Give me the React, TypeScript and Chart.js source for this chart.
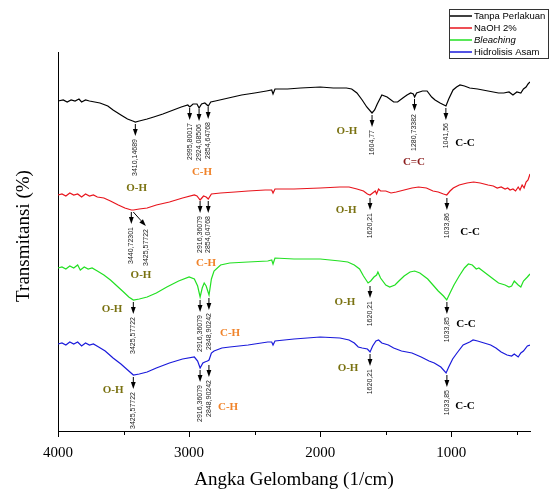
import React, { useEffect, useRef } from "react";
import { Chart, registerables } from "chart.js";

Chart.register(...registerables);

// ---- Spectra (wavenumber in 1/cm, offset transmittance in arbitrary units) ----
const wnTP = [4000,3960,3930,3900,3870,3840,3820,3790,3760,3720,
  3680,3620,3580,3520,3470,3430,3410,3380,3320,3270,
  3200,3120,3060,3010,2995,2970,2940,2924,2905,2880,
  2854,2835,2800,2700,2600,2500,2410,2370,2360,2345,
  2250,2150,2000,1900,1800,1760,1720,1680,1645,1605,
  1585,1565,1530,1490,1440,1410,1370,1338,1310,1290,
  1280,1265,1220,1185,1150,1124,1086,1041,1020,987,
  960,934,900,860,800,760,720,680,640,600,
  560,530,500,470,450,430,415,400];
const tTP = [330,331,329,331,330,332,329,331,330,329,
  328,325,321,316,312,310,309,310,312,314,
  317,321,324,326,324,327,327,323,327,328,
  325,329,330,333,336,338,340,341,337,342,
  342,343,344,343,343,342,338,331,324,318,
  321,327,336,334,329,329,333,336,338,337,
  334,338,340,340,334,331,328,325,332,341,
  344,346,345,343,342,341,340,339,338,338,
  339,336,339,338,342,344,347,349];

const wnNa = [4000,3970,3940,3910,3880,3850,3820,3790,3760,3730,
  3700,3650,3600,3540,3490,3440,3425,3380,3320,3250,
  3150,3050,2960,2940,2916,2890,2870,2854,2830,2760,
  2650,2550,2420,2370,2360,2345,2200,2000,1850,1780,
  1720,1670,1640,1620,1600,1580,1570,1555,1540,1500,
  1460,1420,1360,1300,1250,1190,1140,1100,1060,1035,
  1010,985,940,880,830,780,720,680,650,620,
  590,570,552,530,510,490,476,460,445,430,
  415,400];
const tNa = [236,237,235,238,236,237,234,237,235,236,
  234,233,230,226,223,221,221,222,223,226,
  229,233,236,235,231,235,234,232,237,238,
  239,240,241,241,238,242,242,243,244,244,
  242,240,237,236,238,240,237,242,240,240,
  238,239,241,243,244,243,240,239,237,236,
  240,243,246,248,249,248,246,245,243,244,
  242,243,241,242,240,244,241,246,243,249,
  251,257];

const wnBl = [4000,3970,3940,3910,3880,3850,3830,3800,3770,3740,
  3700,3650,3600,3550,3500,3460,3425,3380,3320,3250,
  3170,3080,3000,2960,2935,2916,2900,2885,2870,2848,
  2830,2810,2760,2690,2550,2400,2370,2360,2345,2200,
  2000,1850,1790,1740,1700,1670,1635,1615,1590,1570,
  1560,1540,1500,1470,1430,1400,1360,1315,1280,1240,
  1180,1140,1100,1060,1035,1010,980,940,900,870,
  840,810,790,760,720,680,640,590,560,540,
  520,490,470,450,420,400];
const tBl = [163,164,162,165,163,166,161,164,162,163,
  160,156,151,145,139,134,131,132,134,138,
  144,150,154,152,145,134,143,148,145,136,
  152,160,166,168,169,170,171,167,173,172,
  172,170,169,166,162,155,148,150,154,156,
  159,153,146,144,146,150,155,159,160,158,
  152,146,140,135,131,138,146,155,163,167,
  166,162,163,160,156,152,148,146,144,145,
  150,146,144,150,154,157];

const wnHA = [4000,3970,3940,3910,3880,3850,3820,3790,3760,3730,
  3690,3640,3580,3520,3460,3425,3380,3320,3250,3150,
  3050,2960,2935,2916,2895,2880,2860,2848,2830,2810,
  2750,2690,2550,2400,2370,2360,2345,2200,2000,1850,
  1780,1740,1710,1680,1640,1620,1600,1575,1555,1530,
  1480,1440,1380,1300,1230,1170,1130,1080,1040,1020,
  990,957,910,860,834,800,750,700,660,620,
  575,540,520,490,470,450,420,400];
const tHA = [87,88,86,89,87,89,85,88,86,87,
  84,80,73,67,60,56,57,59,63,68,
  72,74,70,63,68,69,70,71,78,80,
  83,84,86,89,89,86,90,92,94,93,
  91,88,84,83,82,79,85,90,91,88,
  86,83,80,78,74,70,68,64,58,64,
  72,78,86,89,91,90,88,86,83,79,
  76,75,77,74,78,80,85,86];

const seriesNames = ["Tanpa Perlakuan", "NaOH 2%", "Bleaching", "Hidrolisis Asam"];
const seriesColors = ["#000000", "#e8141c", "#22e022", "#1a1adb"];

const xMajorTicks = [4000, 3000, 2000, 1000];
const xMinorTicks = [3500, 2500, 1500, 500];

// peak arrows: [wavenumber, y start, label, optional tip wavenumber]
const arrowsTP: any[] = [[3410.15,308,"3410,14689"],[2995.8,324,"2995,80017"],[2924.09,323,"2924,08506"],[2854.65,325,"2854,64768"],[1604.77,317,"1604,77"],[1280.73,333,"1280,73382"],[1041.56,324,"1041,56"]];
const arrowsNa: any[] = [[3440.72,220,"3440,72301"],[3425.58,220,"3425,57722",3330],[2916.36,231,"2916,36079"],[2854.05,231,"2854,04768"],[1620.21,234,"1620,21"],[1033.86,234,"1033,86"]];
const arrowsBl: any[] = [[3425.58,130,"3425,57722"],[2916.36,132,"2916,36079"],[2848.9,134,"2848,90242"],[1620.21,146,"1620,21"],[1033.85,130,"1033,85"]];
const arrowsHA: any[] = [[3425.58,55,"3425,57722"],[2916.36,62,"2916,36079"],[2848.9,67,"2848,90242"],[1620.21,78,"1620,21"],[1033.85,57,"1033,85"]];

const OLIVE = "#7a7212";
const ORANGE = "#f0832a";
const DARKRED = "#8b1c1c";
const BLACK = "#000000";
// group labels: [text, wavenumber, y, colour]
const bondLabels: any[] = [
  ["O-H",3400,243,OLIVE],["C-H",2902,259,ORANGE],["O-H",1796,300,OLIVE],["C=C",1285,269,DARKRED],["C-C",896,288,BLACK],
  ["O-H",3367,156,OLIVE],["C-H",2871,168,ORANGE],["O-H",1803,221,OLIVE],["C-C",857,199,BLACK],
  ["O-H",3588,122,OLIVE],["C-H",2688,98,ORANGE],["O-H",1811,129,OLIVE],["C-C",888,107,BLACK],
  ["O-H",3580,41,OLIVE],["C-H",2703,24,ORANGE],["O-H",1788,63,OLIVE],["C-C",896,25,BLACK],
];

const SERIF = '"Liberation Serif", "Times New Roman", serif';
const SANS = '"Liberation Sans", Arial, sans-serif';

function drawArrow(ctx: CanvasRenderingContext2D, x0: number, y0: number, x1: number, y1: number) {
  const ang = Math.atan2(y1 - y0, x1 - x0);
  const hl = 7, hw = 2.4;
  const c = Math.cos(ang), s = Math.sin(ang);
  const bx = x1 - hl * c, by = y1 - hl * s;
  ctx.beginPath();
  ctx.moveTo(x0, y0);
  ctx.lineTo(bx, by);
  ctx.stroke();
  ctx.beginPath();
  ctx.moveTo(x1, y1);
  ctx.lineTo(bx - hw * s, by + hw * c);
  ctx.lineTo(bx + hw * s, by - hw * c);
  ctx.closePath();
  ctx.fill();
}

const overlayPlugin = {
  id: "overlay",
  afterDraw(chart: any) {
    const ctx: CanvasRenderingContext2D = chart.ctx;
    const xs = chart.scales.x, ys = chart.scales.y;
    const area = chart.chartArea;
    ctx.save();

    // x tick marks
    ctx.strokeStyle = "#000";
    ctx.lineWidth = 1;
    const tick = (v: number, len: number) => {
      const px = Math.round(xs.getPixelForValue(v)) + 0.5;
      ctx.beginPath();
      ctx.moveTo(px, area.bottom);
      ctx.lineTo(px, area.bottom + len);
      ctx.stroke();
    };
    xMajorTicks.forEach((v) => tick(v, 6));
    xMinorTicks.forEach((v) => tick(v, 4));

    // axis titles
    ctx.fillStyle = "#000";
    ctx.font = `19px ${SERIF}`;
    ctx.textAlign = "center";
    ctx.textBaseline = "middle";
    ctx.fillText("Angka Gelombang (1/cm)", (area.left + area.right) / 2, 480);
    ctx.save();
    ctx.translate(24, 236);
    ctx.rotate(-Math.PI / 2);
    ctx.font = `19px ${SERIF}`;
    ctx.fillText("Transmitansi (%)", 0, 0);
    ctx.restore();

    // arrows and peak labels
    const groups = [arrowsTP, arrowsNa, arrowsBl, arrowsHA];
    ctx.fillStyle = "#000";
    ctx.strokeStyle = "#000";
    ctx.lineWidth = 1;
    groups.forEach((g) => {
      g.forEach((a: any) => {
        const x0 = xs.getPixelForValue(a[0]);
        const y0 = ys.getPixelForValue(a[1]) + 1;
        const x1 = a[3] !== undefined ? xs.getPixelForValue(a[3]) : x0;
        const y1 = y0 + (a[3] !== undefined ? 14 : 12);
        ctx.fillStyle = "#000";
        drawArrow(ctx, x0, y0, x1, y1);
        ctx.save();
        ctx.translate(x1, y1 + 3);
        ctx.rotate(-Math.PI / 2);
        ctx.font = `7px ${SANS}`;
        ctx.fillStyle = "#222";
        ctx.textAlign = "right";
        ctx.textBaseline = "middle";
        ctx.fillText(a[2], 0, 0);
        ctx.restore();
      });
    });

    // group labels
    ctx.font = `bold 11px ${SERIF}`;
    ctx.textAlign = "center";
    ctx.textBaseline = "middle";
    bondLabels.forEach((b: any) => {
      ctx.fillStyle = b[3];
      ctx.fillText(b[0], xs.getPixelForValue(b[1]), ys.getPixelForValue(b[2]));
    });

    // legend box
    const lx = 449, ly = 9, lw = 99, lh = 49;
    ctx.fillStyle = "#fff";
    ctx.fillRect(lx, ly, lw, lh);
    ctx.strokeStyle = "#333";
    ctx.lineWidth = 1;
    ctx.strokeRect(lx + 0.5, ly + 0.5, lw, lh);
    seriesNames.forEach((name, i) => {
      const yy = ly + 7 + i * 12;
      ctx.strokeStyle = seriesColors[i];
      ctx.lineWidth = 1.5;
      ctx.beginPath();
      ctx.moveTo(lx + 1, yy);
      ctx.lineTo(lx + 23, yy);
      ctx.stroke();
      ctx.fillStyle = "#000";
      ctx.font = `${i === 2 ? "italic " : ""}9.5px ${SANS}`;
      ctx.textAlign = "left";
      ctx.textBaseline = "middle";
      ctx.fillText(name, lx + 25, yy);
    });

    ctx.restore();
  },
};

export default function App() {
  const ref = useRef<HTMLCanvasElement | null>(null);
  useEffect(() => {
    if (!ref.current) return;
    const mk = (wn: number[], t: number[]) => wn.map((x, i) => ({ x, y: t[i] }));
    const all = [mk(wnTP, tTP), mk(wnNa, tNa), mk(wnBl, tBl), mk(wnHA, tHA)];
    const chart = new Chart(ref.current, {
      type: "scatter",
      data: {
        datasets: all.map((d, i) => ({
          label: seriesNames[i],
          data: d,
          showLine: true,
          borderColor: seriesColors[i],
          backgroundColor: seriesColors[i],
          borderWidth: 1.2,
          pointRadius: 0,
          tension: 0,
          fill: false,
        })),
      },
      options: {
        animation: false,
        responsive: false,
        layout: { padding: { top: 52, right: 20, left: 0, bottom: 0 } },
        plugins: { legend: { display: false }, tooltip: { enabled: false } },
        scales: {
          x: {
            type: "linear",
            min: 400,
            max: 4000,
            reverse: true,
            afterBuildTicks: (s: any) => {
              s.ticks = xMajorTicks.map((v) => ({ value: v }));
            },
            afterFit: (s: any) => {
              s.height = 62;
            },
            ticks: {
              autoSkip: false,
              maxRotation: 0,
              padding: 13,
              color: "#000",
              font: { family: SERIF, size: 15 },
              callback: (v: any) => String(v),
            },
            grid: { display: true, drawOnChartArea: false, drawTicks: false },
            border: { display: true, color: "#000", width: 1 },
          },
          y: {
            min: 0,
            max: 379,
            afterFit: (s: any) => {
              s.width = 58;
            },
            ticks: { display: false },
            grid: { display: true, drawOnChartArea: false, drawTicks: false },
            border: { display: true, color: "#000", width: 1 },
          },
        },
      } as any,
      plugins: [overlayPlugin],
    });
    return () => chart.destroy();
  }, []);
  return (
    <div style={{ position: "fixed", left: 0, top: 0, width: 550, height: 493, background: "#fff" }}>
      <canvas ref={ref} width={550} height={493} style={{ display: "block" }} />
    </div>
  );
}
